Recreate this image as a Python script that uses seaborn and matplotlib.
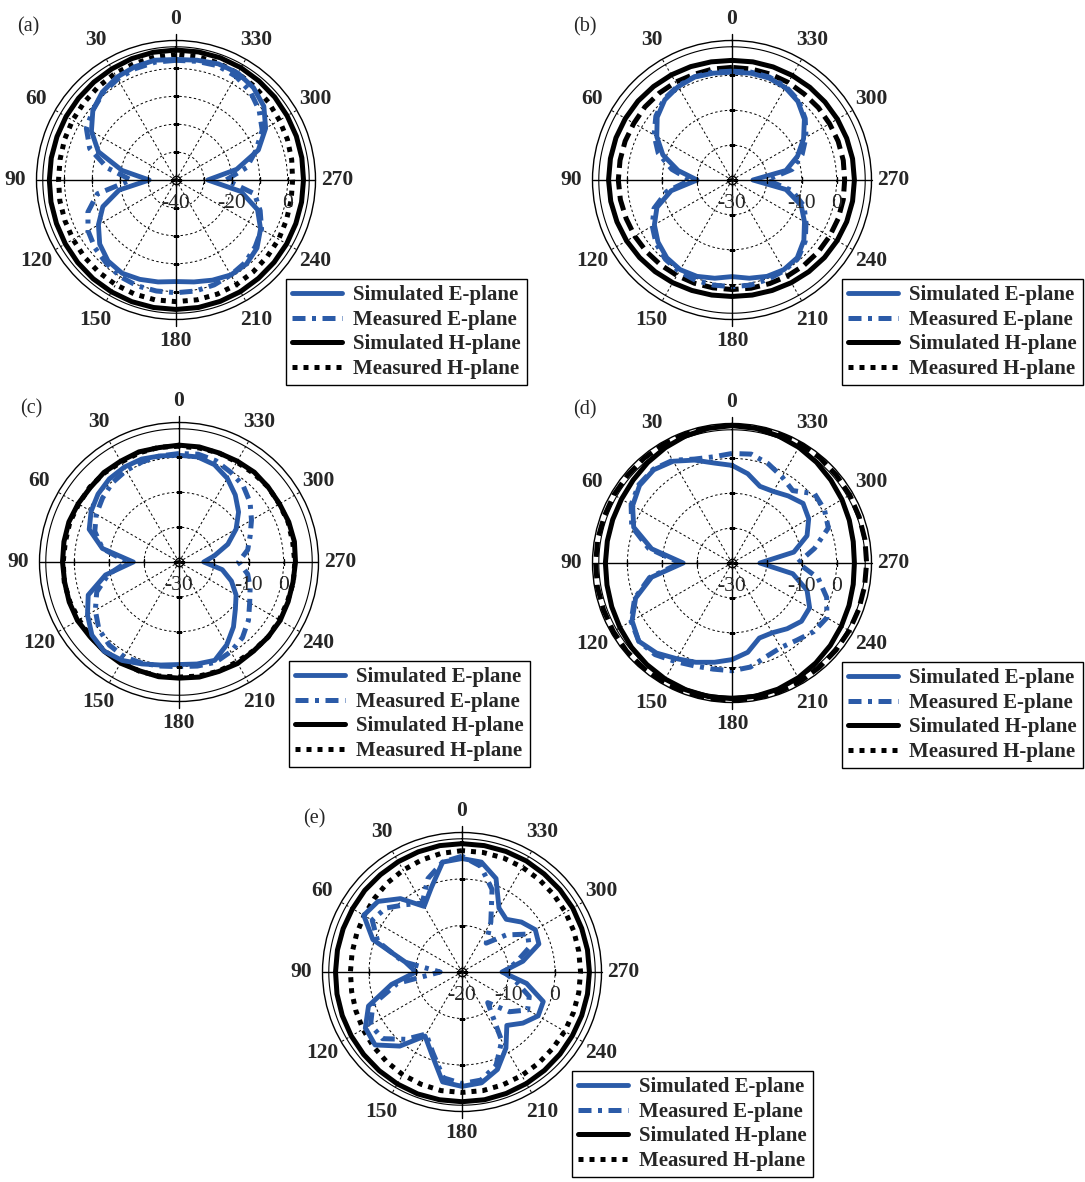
import numpy as np
import pandas as pd
import matplotlib
matplotlib.use("Agg")
import matplotlib.pyplot as plt
import matplotlib.transforms as mtransforms
from matplotlib.lines import Line2D
import seaborn as sns

sns.set_theme(style="white")
plt.rcParams["font.family"] = ["Liberation Serif", "DejaVu Serif"]

BLUE = "#2b5ba8"

# sample angles (deg), counter-clockwise from the top
angles_deg = list(range(0, 360, 10))

# (a) gain in dB
a_sim_e = [3.2, 3.6, 3.2, 2.5, 1.1, -1.1, -5.0, -10.4, -20.4, -30.4, -19.3, -12.1, -7.9, -4.3, -2.1, -1.4, -2.1, -2.9,
           -3.6, -2.9, -1.8, -0.7, -0.7, -2.1, -5.0, -8.9, -16.4, -28.6, -17.9, -8.6, -2.9, 1.1, 3.2, 4.3, 4.3, 3.6]
a_meas_e = [2.9, 2.9, 2.5, 1.8, 0.7, -1.1, -2.9, -7.1, -15.0, -23.9, -11.4, -6.4, -3.6, -2.1, -1.1, 0.0, 0.4, 0.4,
            0.4, 0.4, 0.0, -0.7, -1.4, -2.9, -4.6, -7.9, -11.4, -22.1, -14.3, -9.6, -4.3, -1.1, 1.4, 2.9, 3.6, 3.2]
a_sim_h = [6.6, 6.5, 6.3, 6.0, 5.8, 5.6, 5.5, 5.4, 5.4, 5.4, 5.5, 5.6, 5.8, 6.0, 6.2, 6.3, 6.4, 6.4,
           6.4, 6.4, 6.3, 6.2, 6.0, 5.9, 5.8, 5.7, 5.7, 5.7, 5.8, 5.9, 6.0, 6.2, 6.3, 6.5, 6.6, 6.6]
a_meas_h = [5.0, 4.7, 4.3, 4.0, 3.5, 3.1, 2.8, 2.5, 2.2, 2.1, 2.3, 2.4, 2.6, 2.9, 3.1, 3.3, 3.5, 3.6,
            3.6, 3.6, 3.5, 3.3, 3.0, 2.7, 2.5, 2.1, 1.9, 1.8, 2.1, 2.5, 2.8, 3.3, 3.8, 4.2, 4.6, 4.9]

# (b)
b_sim_e = [0.9, 1.1, 1.4, 0.9, 0.0, -2.0, -5.1, -8.9, -14.3, -20.0, -12.3, -7.1, -4.3, -2.3, -0.9, -0.3, -0.6, -1.4,
           -2.3, -1.4, -0.6, -0.3, -0.9, -3.1, -6.0, -8.9, -14.3, -24.0, -14.3, -10.0, -6.3, -2.9, -0.6, 0.6, 1.1, 1.1]
b_meas_e = [1.2, 1.4, 1.5, 1.1, 0.3, -1.5, -4.2, -7.5, -12.5, -18.0, -11.0, -6.2, -3.6, -1.6, -0.3, 0.3, 0.6, 0.6,
            0.6, 0.6, 0.3, 0.0, -0.6, -2.6, -5.5, -8.0, -12.5, -20.0, -12.5, -8.6, -5.5, -2.6, -0.3, 0.9, 1.4, 1.4]
b_sim_h = [4.3, 4.4, 4.6, 4.8, 5.0, 5.2, 5.3, 5.4, 5.4, 5.4, 5.3, 5.1, 4.9, 4.6, 4.3, 4.0, 3.7, 3.5,
           3.4, 3.5, 3.7, 4.0, 4.3, 4.6, 4.8, 5.0, 5.1, 5.1, 5.1, 5.0, 4.9, 4.8, 4.7, 4.6, 4.5, 4.4]
b_meas_h = [2.3, 2.3, 2.2, 2.4, 2.5, 2.6, 2.5, 2.6, 2.6, 2.6, 2.5, 2.3, 2.2, 2.0, 1.8, 1.6, 1.5, 1.4,
            1.4, 1.5, 1.6, 1.8, 2.0, 2.2, 2.3, 2.4, 2.4, 2.3, 2.4, 2.4, 2.3, 2.3, 2.2, 2.3, 2.3, 2.3]

# (c)
c_sim_e = [0.6, 0.9, 1.4, 1.4, 1.1, 0.3, -0.9, -2.6, -7.7, -16.9, -8.6, -2.3, 0.3, 2.6, 3.4, 2.6, 1.1, 0.0,
           -0.6, -0.3, 0.0, -2.6, -5.7, -8.9, -11.1, -14.0, -17.4, -22.9, -19.7, -15.1, -11.1, -7.7, -4.9, -2.3, -0.3, 0.6]
c_meas_e = [1.1, 0.9, 0.6, 0.3, -0.3, -1.4, -2.6, -4.3, -7.7, -15.1, -9.4, -4.9, -2.3, 0.0, 1.1, 1.4, 0.9, 0.3,
            0.0, 0.3, 0.6, -0.3, -1.7, -4.0, -6.6, -8.3, -10.0, -12.9, -10.0, -8.3, -6.0, -3.4, -1.4, -0.3, 0.9, 1.4]
c_sim_h = [3.5, 3.3, 3.6, 3.4, 3.5, 3.2, 3.4, 3.6, 3.5, 3.4, 3.3, 3.5, 3.6, 3.3, 3.4, 3.5, 3.2, 3.4,
           3.3, 3.5, 3.4, 3.6, 3.3, 3.4, 3.5, 3.3, 3.2, 3.4, 3.6, 3.5, 3.3, 3.4, 3.6, 3.4, 3.3, 3.5]
c_meas_h = [3.2, 3.4, 3.3, 3.1, 3.3, 3.4, 3.2, 3.3, 3.1, 3.2, 3.4, 3.3, 3.1, 3.2, 3.3, 3.1, 3.3, 3.2,
            3.0, 3.2, 3.3, 3.1, 3.2, 3.4, 3.2, 3.1, 3.3, 3.2, 3.1, 3.3, 3.2, 3.4, 3.2, 3.1, 3.3, 3.2]

# (d)
d_sim_e = [-2.0, -0.9, 1.4, 3.7, 4.9, 4.6, 2.9, 0.0, -6.6, -16.0, -6.6, -0.6, 3.1, 4.9, 3.7, 1.7, 0.3, -1.1,
           -2.3, -4.0, -7.1, -6.9, -5.4, -4.0, -4.3, -7.1, -12.3, -22.0, -12.0, -7.1, -4.6, -3.4, -4.9, -6.3, -6.6, -4.0]
d_meas_e = [1.4, 0.9, 1.7, 4.0, 5.1, 4.9, 3.4, 0.6, -5.7, -15.1, -6.0, -0.3, 3.4, 4.9, 4.3, 2.6, 1.4, 0.9,
            0.9, 0.3, -1.4, -2.0, -1.1, 0.6, 1.4, -1.1, -4.9, -11.1, -6.0, -0.6, 0.6, 0.9, -2.9, -1.4, 0.3, 1.7]
d_sim_h = [9.4, 9.2, 8.8, 8.2, 7.6, 7.0, 6.6, 6.4, 6.3, 6.3, 6.4, 6.7, 7.1, 7.6, 8.0, 8.4, 8.7, 8.9,
           8.9, 8.8, 8.5, 8.0, 7.4, 6.8, 6.2, 5.7, 5.3, 5.1, 5.3, 5.8, 6.4, 7.0, 7.7, 8.3, 8.8, 9.2]
d_meas_h = [9.6, 9.5, 9.4, 9.3, 9.2, 9.1, 9.1, 9.0, 9.1, 9.1, 9.2, 9.2, 9.3, 9.4, 9.4, 9.5, 9.5, 9.4,
            9.4, 9.4, 9.3, 9.2, 9.0, 8.9, 8.8, 8.7, 8.6, 8.6, 8.7, 8.8, 9.0, 9.1, 9.3, 9.4, 9.5, 9.6]

# (e)
e_sim_e = [4.4, 4.0, -0.7, -3.7, 0.6, 3.6, 4.4, 0.4, -7.6, -10.1, -4.6, 1.4, 4.0, 4.4, 0.8, -4.1, -1.1, 4.0,
           4.6, 4.2, 2.3, -1.1, -5.0, -2.9, -1.1, -1.4, -5.9, -11.4, -6.7, -2.4, -1.8, -3.3, -5.2, -4.1, 1.4, 4.0]
e_meas_e = [4.9, 4.0, 1.4, -2.9, -1.1, 1.4, 2.3, -0.7, -7.1, -15.3, -5.9, 0.4, 2.7, 2.3, -1.1, -4.6, -1.6, 3.1,
            4.0, 3.6, 1.4, -2.9, -11.4, -6.7, -3.7, -4.6, -8.2, -11.0, -8.2, -4.6, -3.7, -7.6, -11.9, -7.6, -1.1, 3.1]
e_sim_h = [7.6, 7.6, 7.5, 7.4, 7.3, 7.3, 7.2, 7.2, 7.2, 7.2, 7.3, 7.4, 7.5, 7.6, 7.7, 7.8, 7.9, 7.9,
           7.9, 7.9, 7.8, 7.7, 7.6, 7.5, 7.4, 7.4, 7.4, 7.4, 7.4, 7.4, 7.5, 7.5, 7.5, 7.6, 7.6, 7.6]
e_meas_h = [6.1, 5.9, 5.6, 5.3, 5.0, 4.6, 4.3, 4.1, 4.0, 4.0, 4.1, 4.3, 4.6, 4.9, 5.2, 5.5, 5.7, 5.9,
            5.9, 5.9, 5.8, 5.7, 5.6, 5.5, 5.5, 5.5, 5.5, 5.5, 5.5, 5.6, 5.7, 5.8, 5.9, 6.0, 6.1, 6.1]

legend_labels = ["Simulated E-plane", "Measured E-plane", "Simulated H-plane", "Measured H-plane"]
label_angles = list(range(0, 360, 30))

W, H = 1085, 1182
RPX = 139.5
LABEL_R = 1.155  # angle labels, as a fraction of the rim radius
DOT = (0, (1, 1.2))
DASH = (0, (3, 1.3))
DASHDOT = (0, (2.6, 1.3, 0.8, 1.3))

panels = [
    dict(tag="(a)", c=(176, 180), rlim=(-40, 10), rings=[-30, -20, -10, 0], rlab=[-40, -20, 0],
         data=(a_sim_e, a_meas_e, a_sim_h, a_meas_h), hls=DOT),
    dict(tag="(b)", c=(732, 180), rlim=(-30, 10), rings=[-20, -10, 0], rlab=[-30, -10, 0],
         data=(b_sim_e, b_meas_e, b_sim_h, b_meas_h), hls=DASH),
    dict(tag="(c)", c=(179, 562), rlim=(-30, 10), rings=[-20, -10, 0], rlab=[-30, -10, 0],
         data=(c_sim_e, c_meas_e, c_sim_h, c_meas_h), hls=DOT),
    dict(tag="(d)", c=(732, 563), rlim=(-30, 10), rings=[-20, -10, 0], rlab=[-30, -10, 0],
         data=(d_sim_e, d_meas_e, d_sim_h, d_meas_h), hls=DASH),
    dict(tag="(e)", c=(462, 972), rlim=(-20, 10), rings=[-10, 0], rlab=[-20, -10, 0],
         data=(e_sim_e, e_meas_e, e_sim_h, e_meas_h), hls=DOT),
]

fig = plt.figure(figsize=(W / 100, H / 100), dpi=100)
fig.patch.set_facecolor("white")

theta = np.deg2rad(angles_deg + [360])


def closed(vals):
    return list(vals) + [vals[0]]


for p in panels:
    cx, cy = p["c"]
    ax = fig.add_axes([(cx - RPX) / W, 1 - (cy + RPX) / H, 2 * RPX / W, 2 * RPX / H], projection="polar")
    ax.set_facecolor("white")
    ax.set_theta_zero_location("N")
    ax.set_theta_direction(1)
    rmin, rmax = p["rlim"]
    span = rmax - rmin

    sim_e, meas_e, sim_h, meas_h = p["data"]
    styles = [
        (sim_h, "black", "-", 3.6),
        (meas_h, "black", p["hls"], 3.6),
        (sim_e, BLUE, "-", 3.5),
        (meas_e, BLUE, DASHDOT, 3.6),
    ]
    for vals, col, ls, lw in styles:
        df = pd.DataFrame({"theta": theta, "gain": closed(vals)})
        sns.lineplot(data=df, x="theta", y="gain", ax=ax, color=col, linestyle=ls, linewidth=lw,
                     sort=False, estimator=None, errorbar=None, legend=False)
    ax.set_xlabel("")
    ax.set_ylabel("")
    ax.set_rlim(rmin, rmax)

    # grid
    ax.set_rgrids(p["rings"], labels=[""] * len(p["rings"]))
    ax.set_thetagrids(label_angles, [""] * len(label_angles))
    ax.tick_params(axis="x", length=0)
    ax.grid(True, color="black", linestyle=(0, (2.5, 2.5)), linewidth=0.7)
    ax.spines["polar"].set_linewidth(1.0)
    ax.spines["polar"].set_color("black")
    for a in label_angles:
        ax.text(np.deg2rad(a), rmin + LABEL_R * span, str(a), ha="center", va="center",
                fontsize=15.5, fontweight="bold", clip_on=False)

    # inner thin ring, main axes, ticks, centre mark
    ring = np.linspace(0, 2 * np.pi, 361)
    ax.plot(ring, np.full_like(ring, rmin + 0.955 * span), color="black", lw=0.8)
    for t in (0, 180):
        ax.plot([np.deg2rad(t)] * 2, [rmin, rmax + 0.05 * span], color="black", lw=1.0, clip_on=False)
        ax.plot([np.deg2rad(t)] * len(p["rings"]), p["rings"], ls="none", marker="_", ms=5, mew=1, color="black")
    for t in (90, 270):
        ax.plot([np.deg2rad(t)] * 2, [rmin, rmax], color="black", lw=1.0, clip_on=False)
        ax.plot([np.deg2rad(t)] * len(p["rings"]), p["rings"], ls="none", marker="|", ms=5, mew=1, color="black")
    ax.plot([0], [rmin], marker="o", ms=6, mfc="none", mec="black", mew=1)
    ax.plot([0], [rmin], marker="+", ms=8, mew=1, color="black")

    # radial labels below the 270 axis
    trans = mtransforms.offset_copy(ax.transData, fig=fig, x=0, y=-23, units="dots")
    for v in p["rlab"]:
        ax.text(np.deg2rad(270), v, str(v), transform=trans, ha="center", va="center", fontsize=15.5)

    fig.text((cx - 159) / W, 1 - (cy - 153) / H, p["tag"], ha="left", va="center", fontsize=14.5)

    handles = [
        Line2D([], [], color=BLUE, lw=3.5, ls="-"),
        Line2D([], [], color=BLUE, lw=3.6, ls=DASHDOT),
        Line2D([], [], color="black", lw=3.6, ls="-"),
        Line2D([], [], color="black", lw=3.6, ls=DOT),
    ]
    leg = ax.legend(handles, legend_labels, loc="upper left",
                    bbox_to_anchor=((cx + 110) / W, 1 - (cy + 99) / H), bbox_transform=fig.transFigure,
                    prop={"weight": "bold", "size": 15}, frameon=True, fancybox=False, framealpha=1,
                    edgecolor="black", borderpad=0.3, handlelength=2.4, handletextpad=0.5,
                    labelspacing=0.22, borderaxespad=0)
    leg.get_frame().set_linewidth(1.0)

fig.savefig("out.png", dpi=100, facecolor="white")
